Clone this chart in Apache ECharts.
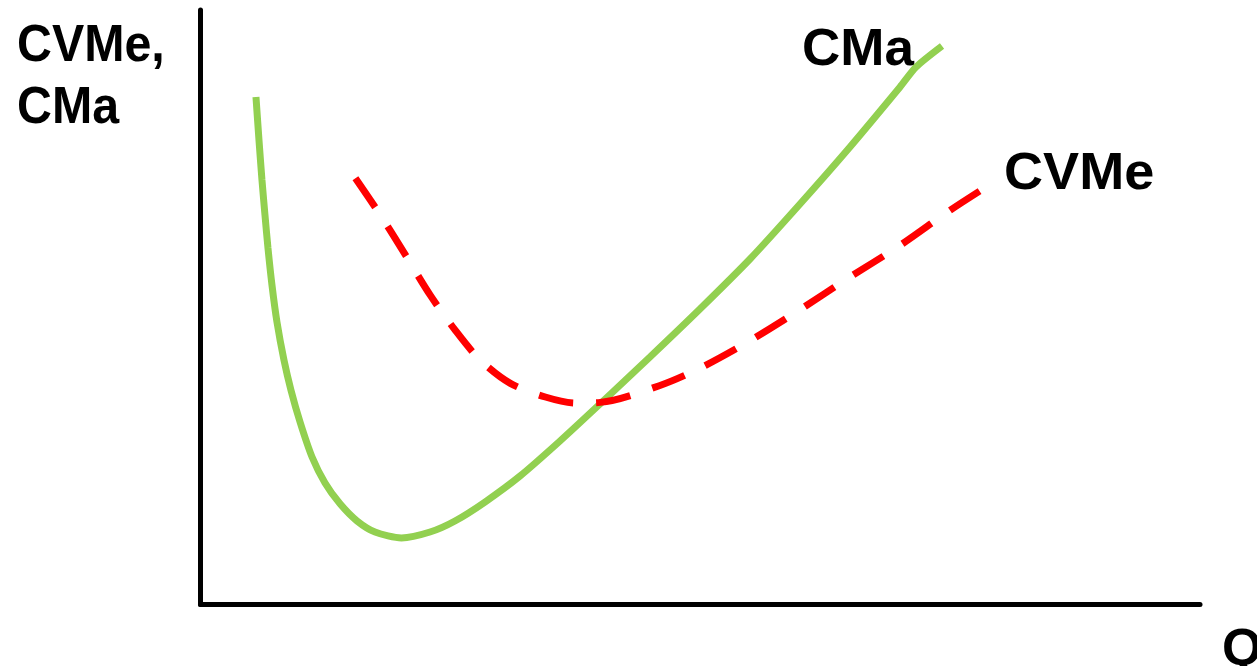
<!DOCTYPE html>
<html><head><meta charset="utf-8">
<script src="https://cdn.jsdelivr.net/npm/echarts@6/dist/echarts.min.js"></script>
<style>html,body{margin:0;padding:0;background:#fff}#c{width:1257px;height:666px}</style>
</head><body><div id="c"></div>
<script>
// CMa (marginal cost) – Q, cost
const cmaQ = [5.55, 5.85, 6.15, 6.45, 6.75, 7.15, 7.65, 8.35, 9.05, 9.96, 11.16, 12.46, 13.96, 15.66, 17.46, 20.1, 22.96, 25.46, 28.46, 31.97, 35.97, 39.97, 44.97, 49.97, 54.98, 59.98, 64.98, 69.99, 71.59, 74.19];
const cmaC = [85.36, 78.13, 71.40, 65.52, 59.97, 53.75, 47.52, 41.13, 36.08, 30.70, 24.81, 20.44, 16.93, 14.05, 12.19, 11.2, 12.19, 14.05, 17.24, 21.61, 27.50, 33.73, 41.64, 49.71, 58.12, 67.37, 76.96, 87.05, 90.41, 93.94];
// CVMe (average variable cost)
const cvmeQ = [15.5, 18.0, 20.5, 23.0, 25.5, 28.0, 31.0, 34.5, 37.5, 40.0, 45.9, 49.9, 54.9, 59.9, 64.9, 69.9, 74.9, 78.1];
const cvmeC = [71.7, 65.5, 58.8, 52.0, 46.1, 41.1, 37.2, 34.9, 33.9, 34.0, 36.8, 39.7, 44.3, 49.5, 55.0, 60.3, 66.2, 69.7];
const labels = { yName: 'CVMe,\nCMa', xName: 'Q', cma: 'CMa', cvme: 'CVMe' };

const zip = (a, b) => a.map((v, i) => [v, b[i]]);
const chart = echarts.init(document.getElementById('c'));
const font = '"Liberation Sans", Arial, sans-serif';
const txt = (x, y, t, sx) => ({ type: 'text', x: x, y: y, scaleX: sx, style: { text: t, font: 'bold 52px ' + font, fill: '#000', lineHeight: 62 } });
chart.setOption({
  animation: false,
  grid: { left: 200.5, right: 57, top: 10, bottom: 61.5 },
  xAxis: { type: 'value', min: 0, max: 100, axisLine: { onZero: false, lineStyle: { color: '#000', width: 5 } }, axisTick: { show: false }, axisLabel: { show: false }, splitLine: { show: false } },
  yAxis: { type: 'value', min: 0, max: 100, axisLine: { show: true, onZero: false, lineStyle: { color: '#000', width: 5 } }, axisTick: { show: false }, axisLabel: { show: false }, splitLine: { show: false } },
  series: [
    { name: 'CMa', type: 'line', data: zip(cmaQ, cmaC), smooth: 0.25, symbol: 'none', lineStyle: { color: '#92D050', width: 7 } },
    { name: 'CVMe', type: 'line', data: zip(cvmeQ, cvmeC), smooth: 0.3, symbol: 'none', lineStyle: { color: '#FF0000', width: 7, type: [35, 23], cap: 'butt' } }
  ],
  graphic: [
    txt(17, 16, labels.yName, 0.93),
    txt(802, 20, labels.cma, 1.02),
    txt(1004, 144, labels.cvme, 1.04),
    txt(1222, 620, labels.xName, 1)
  ]
});
</script></body></html>
